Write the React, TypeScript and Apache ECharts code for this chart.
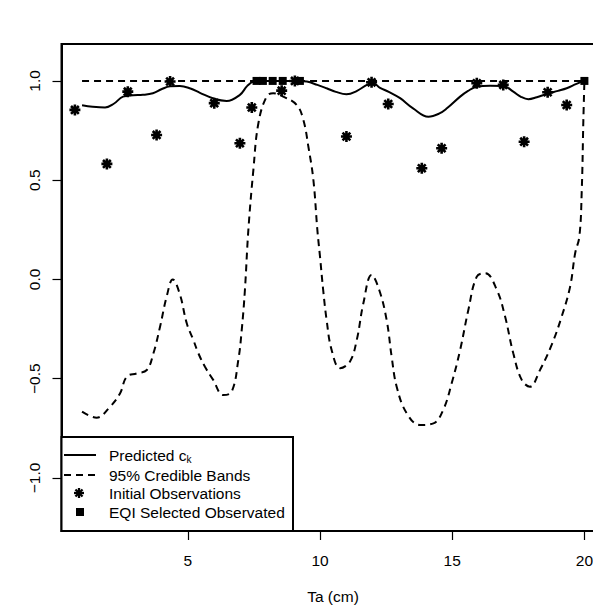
import React, { useEffect, useRef } from "react";
import * as echarts from "echarts";

// ---------- data ----------
const xTicks = [5, 10, 15, 20];
const yTicks = [-1, -0.5, 0, 0.5, 1];

// Predicted c_k curve: [Ta, value]
const predicted: number[][] = [
  [1.0, 0.878], [1.4, 0.87], [1.87, 0.866], [2.2, 0.885], [2.55, 0.921], [2.93, 0.928],
  [3.3, 0.93], [3.68, 0.938], [4.0, 0.958], [4.33, 0.973], [4.7, 0.975], [5.1, 0.962],
  [5.46, 0.94], [6.0, 0.91], [6.47, 0.899], [6.97, 0.93], [7.25, 0.975], [7.5, 0.997],
  [7.8, 1.0], [8.5, 1.0], [9.2, 1.0], [9.5, 0.997], [9.9, 0.98], [10.25, 0.963],
  [10.6, 0.945], [11.0, 0.933], [11.4, 0.95], [11.77, 0.98], [12.0, 0.99], [12.27, 0.965],
  [12.6, 0.945], [13.03, 0.913], [13.52, 0.862], [14.1, 0.82], [14.5, 0.835], [14.8, 0.862],
  [15.3, 0.921], [15.6, 0.95], [15.93, 0.971], [16.43, 0.976], [16.93, 0.975], [17.31, 0.946],
  [17.6, 0.92], [17.88, 0.908], [18.2, 0.918], [18.57, 0.934], [19.0, 0.95], [19.33, 0.963],
  [19.7, 0.985], [20.0, 1.0],
];

// Upper 95% credible band
const upperBand: number[][] = [
  [1.0, 1.0], [20.0, 1.0],
];

// Lower 95% credible band
const lowerBand: number[][] = [
  [1.0, -0.666], [1.55, -0.696], [2.06, -0.641], [2.44, -0.573], [2.69, -0.49], [3.07, -0.473],
  [3.45, -0.456], [3.7, -0.372], [3.95, -0.238], [4.2, -0.087], [4.43, 0.0], [4.7, -0.075],
  [4.96, -0.221], [5.21, -0.305], [5.4, -0.372], [5.65, -0.44], [5.96, -0.506], [6.34, -0.582],
  [6.66, -0.565], [6.91, -0.406], [7.04, -0.254], [7.16, -0.053], [7.29, 0.249], [7.48, 0.552],
  [7.67, 0.787], [7.98, 0.921], [8.23, 0.938], [8.61, 0.921], [9.12, 0.879], [9.37, 0.804],
  [9.56, 0.669], [9.75, 0.501], [9.9, 0.249], [10.0, 0.115], [10.12, -0.053], [10.25, -0.204],
  [10.44, -0.355], [10.76, -0.447], [11.13, -0.414], [11.39, -0.305], [11.64, -0.12], [11.95, 0.023],
  [12.24, -0.053], [12.52, -0.204], [12.71, -0.389], [12.9, -0.54], [13.28, -0.674], [13.78, -0.733],
  [14.29, -0.725], [14.66, -0.657], [14.98, -0.523], [15.3, -0.355], [15.61, -0.154], [15.93, 0.014],
  [16.25, 0.031], [16.69, -0.053], [17.0, -0.187], [17.31, -0.372], [17.63, -0.506], [17.94, -0.54],
  [18.32, -0.456], [18.76, -0.33], [19.14, -0.187], [19.46, -0.036], [19.65, 0.132], [19.81, 0.216],
  [19.9, 0.45], [19.96, 0.8], [20.0, 1.0],
];

// Initial observations (asterisks)
const obsTa = [0.73, 1.94, 2.73, 3.82, 4.33, 6.0, 6.97, 7.42, 8.55, 9.05, 11.0, 11.95, 12.58, 13.85, 14.6, 15.93, 16.93, 17.72, 18.61, 19.33];
const obsC = [0.854, 0.582, 0.946, 0.728, 0.997, 0.888, 0.686, 0.866, 0.951, 1.0, 0.72, 0.993, 0.884, 0.56, 0.661, 0.988, 0.98, 0.694, 0.943, 0.879];

// EQI selected observations (squares)
const eqiTa = [7.6, 7.84, 8.21, 8.59, 9.24, 20.0];
const eqiC = [1.0, 1.0, 1.0, 1.0, 1.0, 1.0];

const legendLabels = ["Predicted c", "95% Credible Bands", "Initial Observations", "EQI Selected Observated"];

// ---------- chart ----------
const FONT = "'Liberation Sans', Arial, Helvetica, sans-serif";
const W = 593;
const H = 605;
const ASTERISK = "path://M5,0L5,10M0,5L10,5M1.46,1.46L8.54,8.54M1.46,8.54L8.54,1.46";

function fmt(v: number) {
  return v.toFixed(1).replace("-", "\u2212");
}

function asteriskGraphic(cx: number, cy: number, r: number) {
  const d = r * 0.7071;
  const segs = [
    [cx, cy - r, cx, cy + r],
    [cx - r, cy, cx + r, cy],
    [cx - d, cy - d, cx + d, cy + d],
    [cx - d, cy + d, cx + d, cy - d],
  ];
  return segs.map((s) => ({
    type: "line",
    shape: { x1: s[0], y1: s[1], x2: s[2], y2: s[3] },
    style: { stroke: "#000", lineWidth: 2.3 },
  }));
}

export default function App() {
  const ref = useRef<HTMLDivElement>(null);

  useEffect(() => {
    if (!ref.current) return;
    const chart = echarts.init(ref.current, null, { renderer: "svg" });

    const legX = 61.5;
    const legTop = 437;
    const legBottom = 531;
    const legRight = 293;
    const rowY = [455, 475, 493, 512];
    const textX = 109;

    const legendGraphics: any[] = [
      {
        type: "rect",
        shape: { x: legX, y: legTop, width: legRight - legX, height: legBottom - legTop },
        style: { fill: "#fff", stroke: "#000", lineWidth: 2 },
        z: 100,
      },
      {
        type: "line",
        shape: { x1: 64, y1: rowY[0], x2: 96, y2: rowY[0] },
        style: { stroke: "#000", lineWidth: 2 },
        z: 101,
      },
      {
        type: "line",
        shape: { x1: 64, y1: rowY[1], x2: 96, y2: rowY[1] },
        style: { stroke: "#000", lineWidth: 2, lineDash: [7, 5] },
        z: 101,
      },
      ...asteriskGraphic(79, rowY[2], 5).map((g) => ({ ...g, z: 101 })),
      {
        type: "rect",
        shape: { x: 76, y: rowY[3] - 4, width: 8, height: 8 },
        style: { fill: "#000" },
        z: 101,
      },
      {
        type: "text",
        x: textX,
        y: rowY[0],
        z: 101,
        style: {
          text: "{a|" + legendLabels[0] + "}{b|k}",
          verticalAlign: "middle",
          fill: "#000",
          rich: {
            a: { fontSize: 15.5, fontFamily: FONT, lineHeight: 18, fill: "#000" },
            b: { fontSize: 10, fontFamily: FONT, lineHeight: 18, verticalAlign: "bottom", padding: [6, 0, 0, 0], fill: "#000" },
          },
        },
      },
      ...[1, 2, 3].map((i) => ({
        type: "text",
        x: textX,
        y: rowY[i],
        z: 101,
        style: {
          text: legendLabels[i],
          fontSize: 15.5,
          fontFamily: FONT,
          fill: "#000",
          verticalAlign: "middle",
        },
      })),
    ];

    const option: any = {
      animation: false,
      backgroundColor: "#fff",
      grid: {
        left: 61.5,
        right: -11.5,
        top: 44,
        bottom: H - 531,
        show: true,
        borderColor: "#000",
        borderWidth: 2,
        backgroundColor: "transparent",
        containLabel: false,
        outerBoundsMode: "none",
      },
      xAxis: {
        type: "value",
        min: 0.223,
        max: 20.76,
        name: "Ta (cm)",
        nameLocation: "middle",
        nameGap: 57,
        nameTextStyle: { fontSize: 15.5, fontFamily: FONT, color: "#000" },
        axisLine: { show: true, onZero: false, lineStyle: { color: "#000", width: 2 } },
        splitLine: { show: false },
        axisTick: {
          show: true,
          inside: false,
          length: 9,
          customValues: xTicks,
          lineStyle: { color: "#000", width: 1.2 },
        },
        axisLabel: {
          show: true,
          margin: 21,
          customValues: xTicks,
          formatter: (v: number) => String(v),
          fontSize: 15.5,
          fontFamily: FONT,
          color: "#000",
        },
      },
      yAxis: {
        type: "value",
        min: -1.267,
        max: 1.186,
        axisLine: { show: true, onZero: false, lineStyle: { color: "#000", width: 2 } },
        splitLine: { show: false },
        axisTick: {
          show: true,
          inside: false,
          length: 9,
          customValues: yTicks,
          lineStyle: { color: "#000", width: 1.2 },
        },
        axisLabel: {
          show: true,
          rotate: 90,
          margin: 19,
          customValues: yTicks,
          formatter: (v: number) => fmt(v),
          fontSize: 15.5,
          fontFamily: FONT,
          color: "#000",
        },
      },
      series: [
        {
          name: "Predicted",
          type: "line",
          data: predicted,
          smooth: 0.4,
          showSymbol: false,
          symbol: "none",
          lineStyle: { color: "#000", width: 2 },
          z: 5,
        },
        {
          name: "Upper band",
          type: "line",
          data: upperBand,
          showSymbol: false,
          symbol: "none",
          lineStyle: { color: "#000", width: 2, type: [7, 5] },
          z: 4,
        },
        {
          name: "Lower band",
          type: "line",
          data: lowerBand,
          smooth: 0.4,
          showSymbol: false,
          symbol: "none",
          lineStyle: { color: "#000", width: 2, type: [7, 5] },
          z: 4,
        },
        {
          name: "Initial Observations",
          type: "scatter",
          data: obsTa.map((t, i) => [t, obsC[i]]),
          symbol: ASTERISK,
          symbolSize: 11,
          itemStyle: { color: "transparent", borderColor: "#000", borderWidth: 2.6, opacity: 1 },
          z: 6,
        },
        {
          name: "EQI Selected Observated",
          type: "scatter",
          data: eqiTa.map((t, i) => [t, eqiC[i]]),
          symbol: "rect",
          symbolSize: 8,
          itemStyle: { color: "#000", opacity: 1 },
          z: 7,
        },
      ],
      graphic: legendGraphics,
    };

    chart.setOption(option);
    return () => chart.dispose();
  }, []);

  return <div ref={ref} style={{ position: "absolute", left: 0, top: 0, width: W, height: H, background: "#fff" }} />;
}
